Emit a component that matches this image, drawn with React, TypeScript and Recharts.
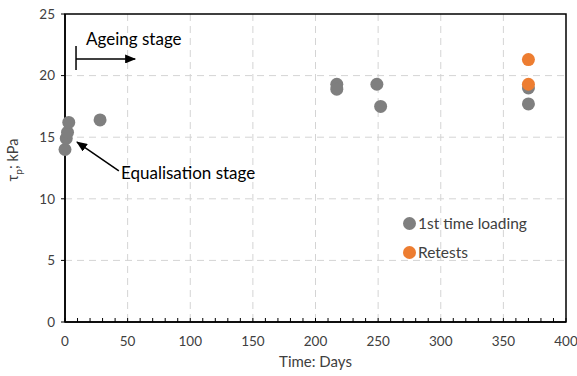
import React from 'react';
import {
    ScatterChart,
    Scatter,
    XAxis,
    YAxis,
    CartesianGrid,
    ReferenceLine,
    ReferenceDot,
    ReferenceArea,
} from 'recharts';

// ─── Data ─────────────────────────────────────────────────────────────────────

const firstLoadingDays = [0, 1, 2, 3, 28, 217, 217, 249, 252, 370, 370];
const firstLoadingTau = [14.0, 14.9, 15.4, 16.2, 16.4, 19.3, 18.9, 19.3, 17.5, 19.0, 17.7];

const retestDays = [370, 370];
const retestTau = [21.3, 19.3];

const xTicks = Array.from({ length: 41 }, (_, i) => i * 10);
const yTicks = [0, 5, 10, 15, 20, 25];
const gridX = [50, 100, 150, 200, 250, 300, 350];
const gridY = [5, 10, 15, 20];

const firstLoading = firstLoadingDays.map((d, i) => ({ day: d, tau: firstLoadingTau[i] }));
const retests = retestDays.map((d, i) => ({ day: d, tau: retestTau[i] }));

const GRAY = '#7f7f7f';
const ORANGE = '#ed7d31';
const TEXT = '#404040';
const FONT = 'Lato, "Open Sans", sans-serif';

// ─── Helpers ──────────────────────────────────────────────────────────────────

const dot = (fill: string) => (props: any) => (
    <circle cx={props.cx} cy={props.cy} r={6.5} fill={fill} />
);

const XTick = (props: any) => {
    const { x, y, payload } = props;
    const v = payload.value as number;
    return (
        <g>
            <line x1={x} x2={x} y1={y} y2={y - 4} stroke="#000" strokeWidth={1} />
            {v % 50 === 0 && (
                <text x={x} y={y + 24} textAnchor="middle" fontSize={13.5} fill={TEXT} fontFamily={FONT}>
                    {v}
                </text>
            )}
        </g>
    );
};

const YLabel = () => (
    <text
        x={18}
        y={160}
        transform="rotate(-90, 18, 160)"
        textAnchor="middle"
        fontSize={14.5}
        fill={TEXT}
        fontFamily={FONT}
    >
        τ<tspan dy={4} fontSize={10}>p</tspan>
        <tspan dy={-4}>; kPa</tspan>
    </text>
);

const LegendBox = () => (
    <div
        style={{
            position: 'absolute',
            left: 403,
            top: 209,
            fontFamily: FONT,
            fontSize: 15.5,
            color: TEXT,
            lineHeight: '29px',
        }}
    >
        <div style={{ display: 'flex', alignItems: 'center' }}>
            <span style={{ width: 13, height: 13, borderRadius: 7, background: GRAY, marginRight: 2 }} />
            1st time loading
        </div>
        <div style={{ display: 'flex', alignItems: 'center' }}>
            <span style={{ width: 13, height: 13, borderRadius: 7, background: ORANGE, marginRight: 2 }} />
            Retests
        </div>
    </div>
);

// ─── Component ────────────────────────────────────────────────────────────────

export default function App() {
    return (
        <div style={{ position: 'absolute', left: 0, top: 0, width: 577, height: 376, background: '#fff' }}>
            <svg width={0} height={0} style={{ position: 'absolute' }}>
                <defs>
                    <marker
                        id="arrowHead"
                        markerUnits="userSpaceOnUse"
                        markerWidth={11}
                        markerHeight={9}
                        refX={10}
                        refY={4.5}
                        orient="auto"
                    >
                        <path d="M0,0 L11,4.5 L0,9 z" fill="#000" />
                    </marker>
                </defs>
            </svg>
            <ScatterChart
                width={577}
                height={376}
                margin={{ top: 14, right: 11, bottom: 0, left: 30 }}
            >
                <CartesianGrid
                    stroke="#d4d4d4"
                    strokeDasharray="7 5"
                    verticalValues={gridX}
                    horizontalValues={gridY}
                />
                <XAxis
                    type="number"
                    dataKey="day"
                    domain={[0, 400]}
                    ticks={xTicks}
                    interval={0}
                    height={54}
                    tickSize={0}
                    tickMargin={0}
                    tick={<XTick />}
                    axisLine={{ stroke: '#000', strokeWidth: 1.5 }}
                    tickLine={false}
                    label={{
                        value: 'Time: Days',
                        position: 'insideBottom',
                        offset: 9,
                        fontSize: 15,
                        fill: TEXT,
                        fontFamily: FONT,
                    }}
                />
                <YAxis
                    type="number"
                    dataKey="tau"
                    domain={[0, 25]}
                    ticks={yTicks}
                    width={35}
                    tickSize={4}
                    tickMargin={6}
                    tick={{ fontSize: 13.5, fill: TEXT, fontFamily: FONT }}
                    axisLine={{ stroke: '#000', strokeWidth: 1.5 }}
                    tickLine={{ stroke: '#000' }}
                    label={<YLabel />}
                />
                <ReferenceArea x1={0} x2={400} y1={0} y2={25} fill="none" stroke="#000" strokeWidth={1.5} />

                {/* Ageing stage arrow */}
                <ReferenceLine
                    segment={[{ x: 8.8, y: 22.4 }, { x: 8.8, y: 20.45 }]}
                    stroke="#000"
                    strokeWidth={1.5}
                />
                <ReferenceLine
                    segment={[{ x: 8.8, y: 21.35 }, { x: 56, y: 21.35 }]}
                    stroke="#000"
                    strokeWidth={1.5}
                    markerEnd="url(#arrowHead)"
                />
                <ReferenceDot
                    x={16.8}
                    y={22.97}
                    r={0}
                    fill="none"
                    stroke="none"
                    label={{ value: 'Ageing stage', position: 'right', offset: 0, fontSize: 17, fill: '#000', fontFamily: FONT }}
                />

                {/* Equalisation stage arrow */}
                <ReferenceLine
                    segment={[{ x: 43, y: 12.26 }, { x: 9.6, y: 14.6 }]}
                    stroke="#000"
                    strokeWidth={1.5}
                    markerEnd="url(#arrowHead)"
                />
                <ReferenceDot
                    x={44.7}
                    y={12.1}
                    r={0}
                    fill="none"
                    stroke="none"
                    label={{ value: 'Equalisation stage', position: 'right', offset: 0, fontSize: 17, fill: '#000', fontFamily: FONT }}
                />

                <Scatter
                    name="1st time loading"
                    data={firstLoading}
                    fill={GRAY}
                    shape={dot(GRAY)}
                    isAnimationActive={false}
                />
                <Scatter
                    name="Retests"
                    data={retests}
                    fill={ORANGE}
                    shape={dot(ORANGE)}
                    isAnimationActive={false}
                />
            </ScatterChart>
            <LegendBox />
        </div>
    );
}
